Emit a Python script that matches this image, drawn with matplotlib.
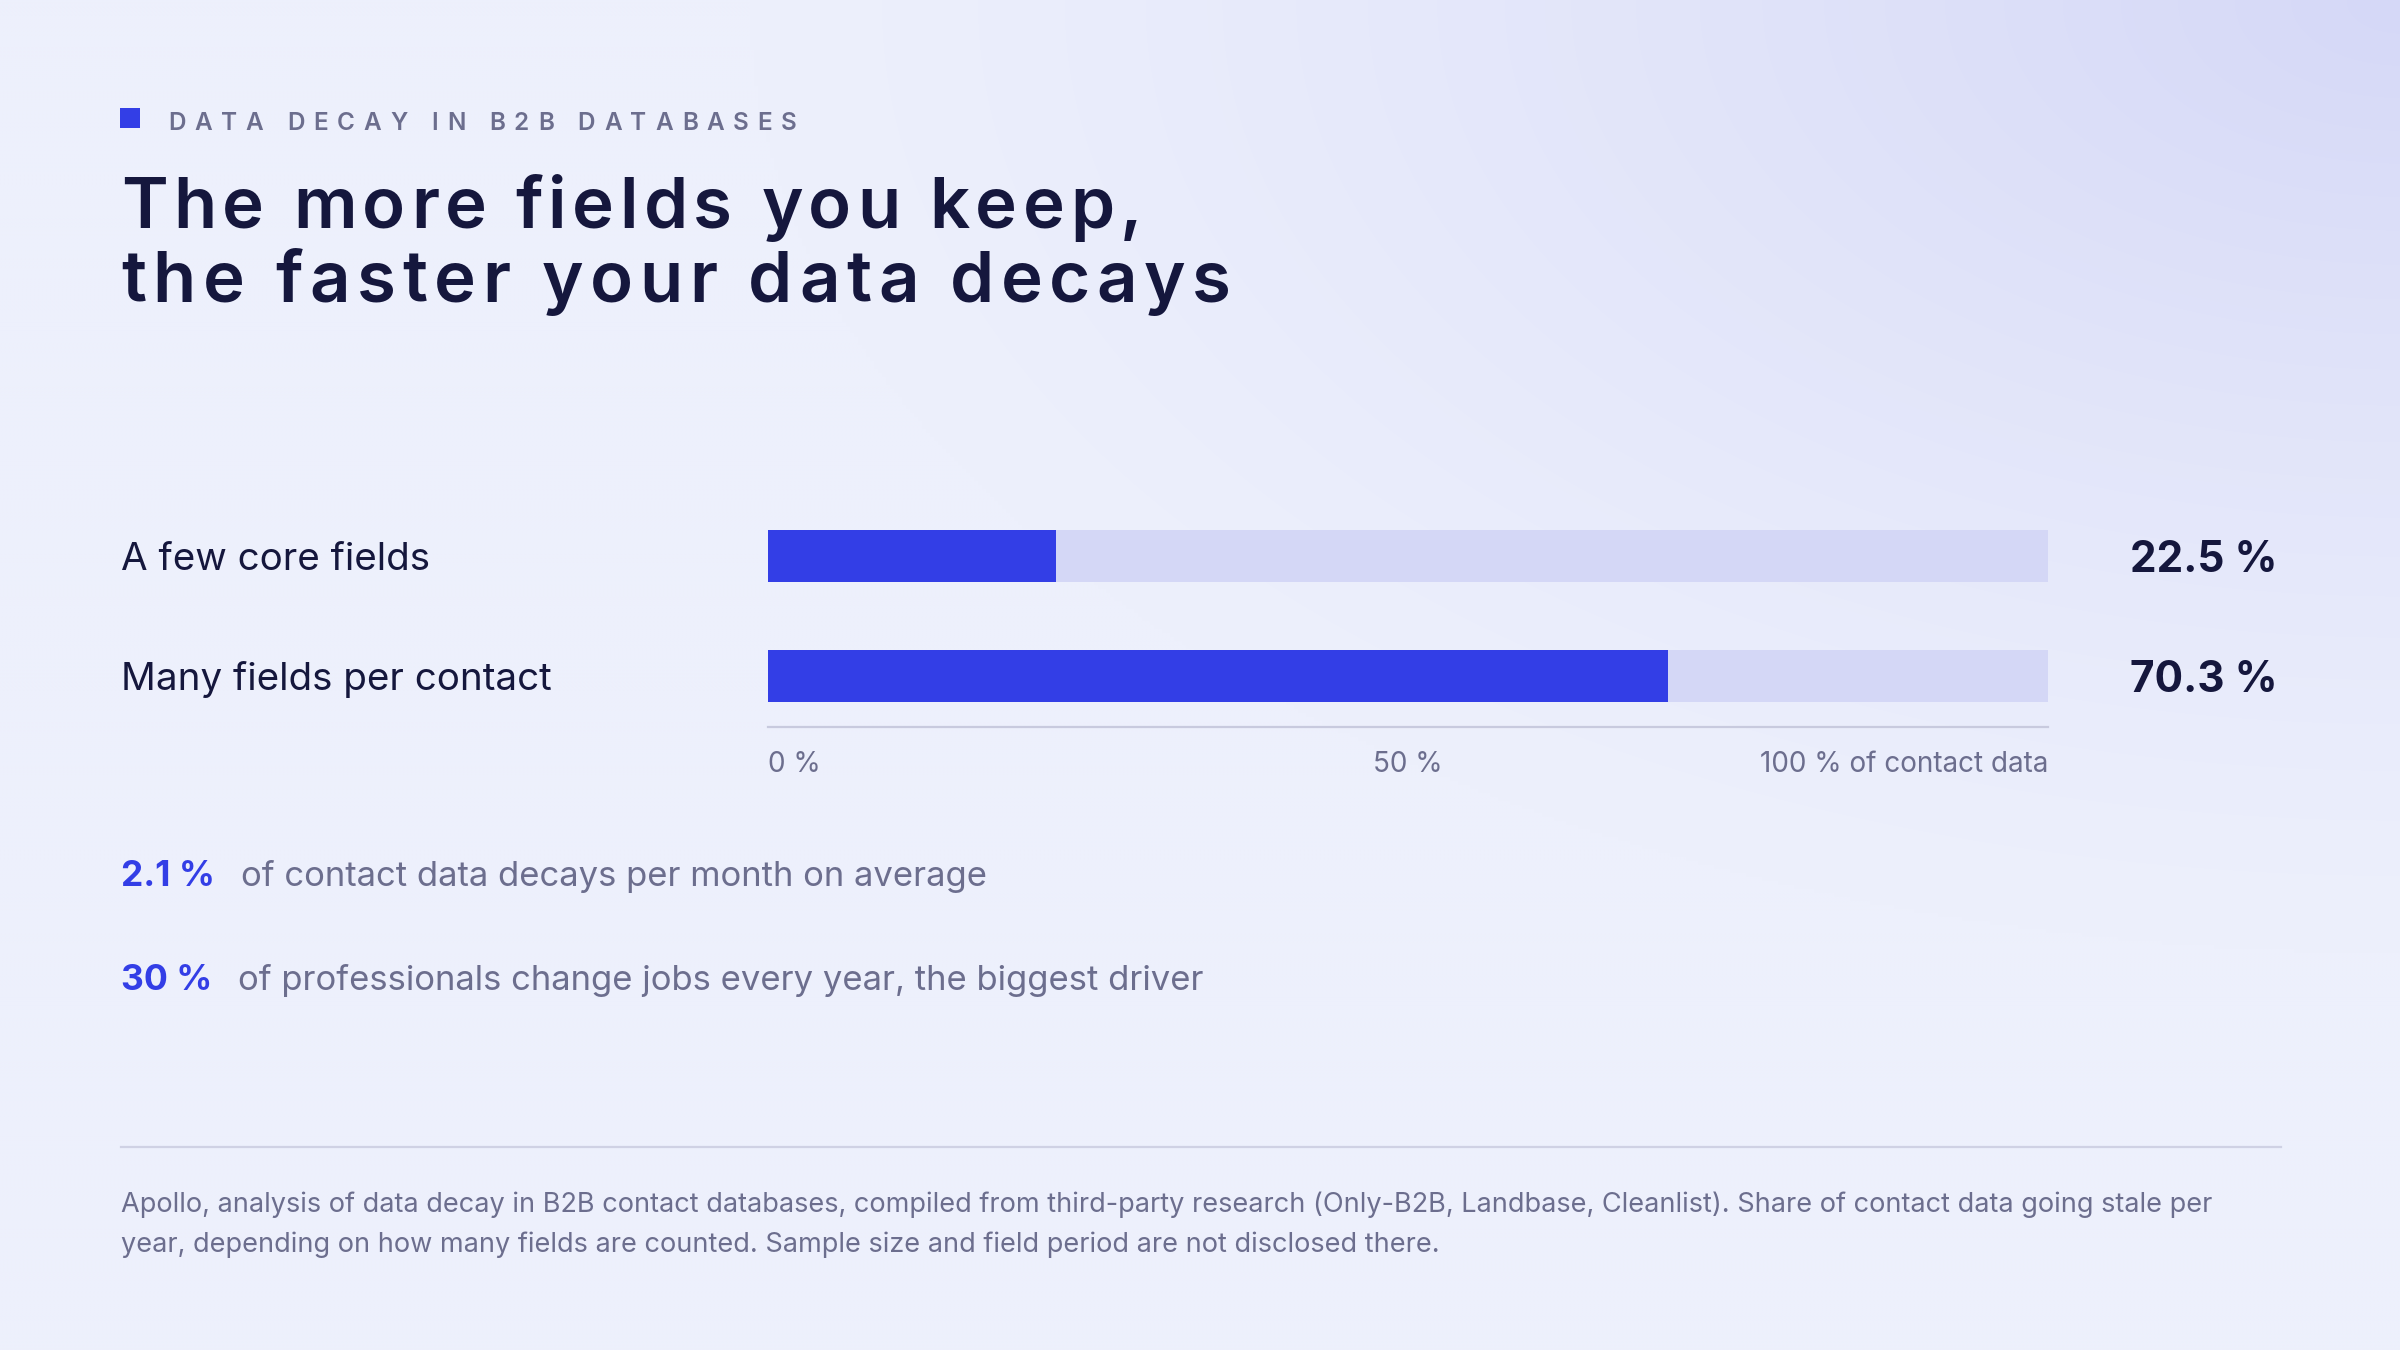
import numpy as np
import matplotlib
matplotlib.use("Agg")
import matplotlib.pyplot as plt
from matplotlib import font_manager
from matplotlib.ft2font import FT2Font

# ---------------- data ----------------
kicker = "DATA DECAY IN B2B DATABASES"
title_lines = ["The more fields you keep,", "the faster your data decays"]
categories = ["A few core fields", "Many fields per contact"]
decay_share = [22.5, 70.3]
axis_max = 100
tick_values = [0, 50, 100]
tick_labels = ["0 %", "50 %", "100 % of contact data"]
stat_values = ["2.1 %", "30 %"]
stat_texts = ["of contact data decays per month on average",
              "of professionals change jobs every year, the biggest driver"]
footnote_lines = [
    "Apollo, analysis of data decay in B2B contact databases, compiled from third-party research "
    "(Only-B2B, Landbase, Cleanlist). Share of contact data going stale per",
    "year, depending on how many fields are counted. Sample size and field period are not disclosed there.",
]

# ---------------- style ----------------
W, H, DPI = 2400, 1350, 100
FAM = "Inter"
NAVY = "#15173d"
BLUE = "#333ee6"
GRAY = "#6c6e8e"
TRACK = "#d4d7f6"
RULE = "#cfd1e4"
BG = np.array([0xed, 0xf0, 0xfc]) / 255
BG_CORNER = np.array([0xd5, 0xd8, 0xf7]) / 255

plt.rcParams["font.family"] = [FAM, "DejaVu Sans"]

fig = plt.figure(figsize=(W / DPI, H / DPI), dpi=DPI)
renderer = fig.canvas.get_renderer()

# background gradient (radial glow from top-right corner)
bg_ax = fig.add_axes([0, 0, 1, 1], zorder=-10)
yy, xx = np.mgrid[0:H:4, 0:W:4]
d = np.sqrt(((xx - W) / 1650.0) ** 2 + (yy / 950.0) ** 2)
t = np.clip(1 - d, 0, 1) ** 1.25
img = BG[None, None, :] + (BG_CORNER - BG)[None, None, :] * t[..., None]
bg_ax.imshow(img, extent=[0, W, H, 0], aspect="auto", interpolation="bilinear")
bg_ax.set_xlim(0, W)
bg_ax.set_ylim(H, 0)
bg_ax.axis("off")


def fx(px):
    return px / W


def fy(py):
    return 1 - py / H


def text_width(s, size, weight):
    tt = fig.text(0, 0, s, fontsize=size, fontweight=weight, family=FAM)
    w = tt.get_window_extent(renderer).width
    tt.remove()
    return w


def fit_size(s, weight, target_w, cap_px, alpha=1.0):
    size_h = cap_px / 0.7275 * 72 / DPI
    w = text_width(s, size_h, weight)
    size_w = size_h * target_w / w
    return size_h ** (1 - alpha) * size_w ** alpha


def tracked(x, y, s, size, weight, color, target_w):
    """Letter-spaced text: glyphs placed along the line with extra tracking."""
    path = font_manager.findfont(font_manager.FontProperties(family=FAM, weight=weight))
    f = FT2Font(path, hinting_factor=1)
    f.set_size(size, DPI)
    adv = [f.load_char(ord(c)).linearHoriAdvance / 65536.0 for c in s]
    tr = (target_w - sum(adv[:-1]) - text_width(s[-1], size, weight)) / (len(s) - 1)
    cx = x
    for c, a in zip(s, adv):
        if c != " ":
            fig.text(fx(cx), fy(y), c, fontsize=size, fontweight=weight, color=color,
                     family=FAM, ha="left", va="baseline")
        cx += a + tr


LEFT = 121

# kicker marker + kicker
fig.patches.append(plt.Rectangle((fx(120), fy(128)), 20 / W, 20 / H, transform=fig.transFigure,
                                 facecolor=BLUE, edgecolor="none"))
tracked(168, 130, kicker, 17.5, "semibold", GRAY, 629)

# title (letter-spaced)
ts = fit_size(title_lines[1], "semibold", 1110, 47, alpha=0.35)
tracked(LEFT, 228, title_lines[0], ts, "semibold", NAVY, 1021)
tracked(LEFT, 302, title_lines[1], ts, "semibold", NAVY, 1110)

# ---------------- bar chart ----------------
BAR_L, BAR_R = 768, 2048
ROW0, ROW_STEP, BAR_H = 556, 120, 52
AX_TOP, AX_BOT = 505, 727
n = len(categories)
ax = fig.add_axes([fx(BAR_L), fy(AX_BOT), (BAR_R - BAR_L) / W, (AX_BOT - AX_TOP) / H])
ax.patch.set_alpha(0)
idx = np.arange(n)
ax.barh(idx, [axis_max] * n, height=BAR_H / ROW_STEP, color=TRACK, edgecolor="none")
ax.barh(idx, decay_share, height=BAR_H / ROW_STEP, color=BLUE, edgecolor="none")
ax.set_xlim(0, axis_max)
ax.set_ylim((AX_BOT - ROW0) / ROW_STEP, (AX_TOP - ROW0) / ROW_STEP)
for s in ["top", "left", "right"]:
    ax.spines[s].set_visible(False)
ax.spines["bottom"].set_color("#c8cade")
ax.spines["bottom"].set_linewidth(1.6)
ax.set_yticks([])
ax.set_xticks(tick_values)
tick_size = fit_size(tick_labels[2], "normal", 291, 20, alpha=0.7)
ax.set_xticklabels(tick_labels, fontsize=tick_size, color=GRAY)
ax.tick_params(axis="x", length=0, pad=17)
for lab, ha in zip(ax.get_xticklabels(), ["left", "center", "right"]):
    lab.set_ha(ha)

cat_size = fit_size(categories[1], "normal", 435, 27, alpha=0.8)
val_size = fit_size(f"{decay_share[0]:.1f} %", "bold", 150, 30, alpha=0.6)
for i, (cat, v) in enumerate(zip(categories, decay_share)):
    base = ROW0 + i * ROW_STEP + 14
    fig.text(fx(LEFT), fy(base), cat, fontsize=cat_size, color=NAVY, ha="left", va="baseline")
    fig.text(fx(2278), fy(base + 2), f"{v:.1f} %", fontsize=val_size, fontweight="bold",
             color=NAVY, ha="right", va="baseline")

# ---------------- stats ----------------
STAT_BASE = [886, 990]
stat_num_size = fit_size(stat_values[0], "bold", 99, 24, alpha=0.6)
stat_txt_size = fit_size(stat_texts[1], "normal", 964, 24, alpha=1.0)
for sv, st, b in zip(stat_values, stat_texts, STAT_BASE):
    fig.text(fx(LEFT), fy(b), sv, fontsize=stat_num_size, fontweight="bold", color=BLUE,
             ha="left", va="baseline")
    wnum = text_width(sv, stat_num_size, "bold")
    fig.text(fx(LEFT + wnum + 26), fy(b), st, fontsize=stat_txt_size, color=GRAY,
             ha="left", va="baseline")

# separator rule
fig.add_artist(plt.Line2D([fx(LEFT), fx(2281)], [fy(1147), fy(1147)], transform=fig.transFigure,
                          color=RULE, linewidth=1.6))

# footnote
foot_size = fit_size(footnote_lines[0], "normal", 2089, 18, alpha=1.0)
for line, b in zip(footnote_lines, [1212, 1252]):
    fig.text(fx(LEFT), fy(b), line, fontsize=foot_size, color=GRAY, ha="left", va="baseline")

fig.savefig("out.png", dpi=DPI)
